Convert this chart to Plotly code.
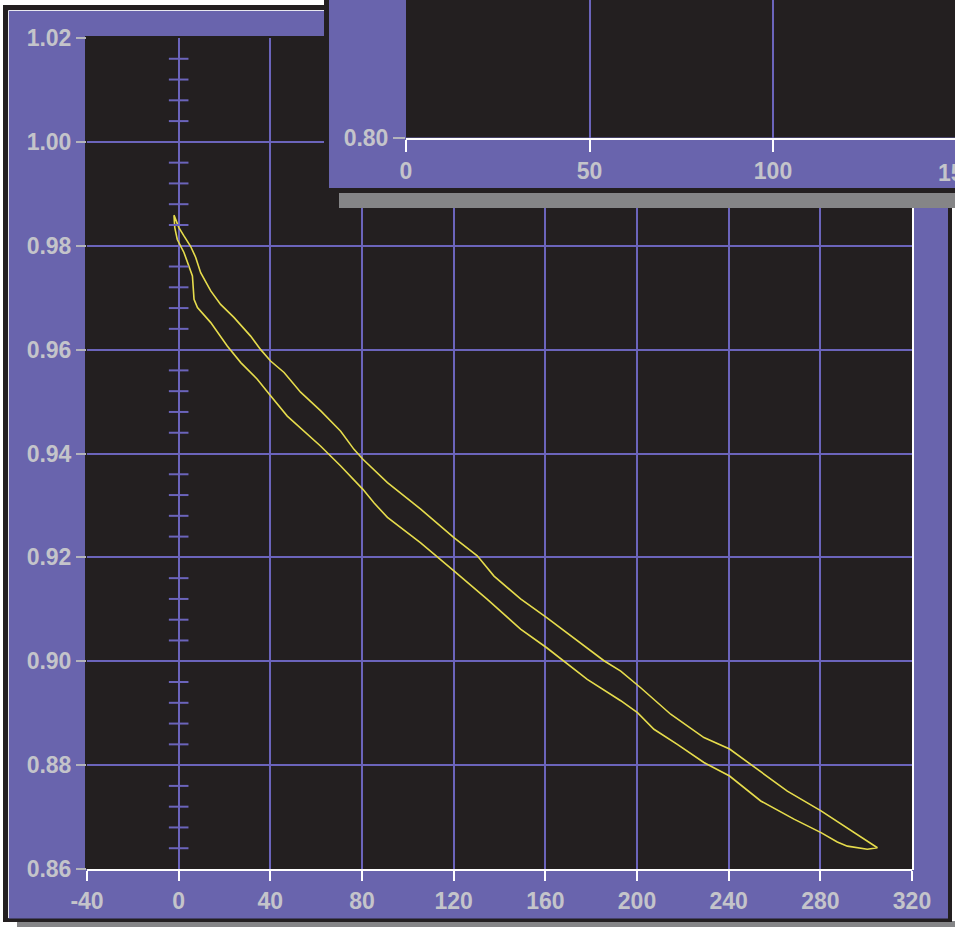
import plotly.graph_objects as go

# ---------------- data ----------------
# closed loop: upper branch (going right/down) then lower branch (coming back)
upper_x = [-2.05, -1.3, 0.1, 2.3, 5.2, 7.4, 9.6, 14.0, 18.3, 24.1, 31.4, 35.8, 40.1, 46.0,
           53.2, 62.0, 70.7, 76.5, 80.4, 91.1, 105.6, 120.1, 130.3, 137.6, 149.2, 160.6,
           171.1, 185.6, 192.9, 201.6, 214.7, 229.2, 240.4, 249.6, 265.6, 280.3, 294.8, 304.9]
upper_y = [0.9859, 0.9851, 0.9835, 0.9819, 0.9799, 0.9778, 0.9748, 0.9713, 0.9687, 0.9662,
           0.9626, 0.9600, 0.9578, 0.9556, 0.9518, 0.9482, 0.9443, 0.9408, 0.9389, 0.9344,
           0.9293, 0.9238, 0.9203, 0.9164, 0.9120, 0.9084, 0.9049, 0.9001, 0.8981, 0.8949,
           0.8898, 0.8853, 0.8831, 0.8802, 0.8750, 0.8712, 0.8670, 0.8641]
lower_x = [300.5, 291.8, 287.4, 280.3, 268.5, 254.0, 240.4, 229.2, 217.6, 207.4, 200.2,
           192.9, 178.3, 160.6, 149.2, 134.7, 120.1, 105.6, 91.1, 85.2, 80.4, 70.7, 62.0,
           47.4, 40.1, 34.3, 27.1, 21.2, 14.0, 8.2, 6.7, 6.0, 2.3, -0.6, -1.7, -2.05]
lower_y = [0.8638, 0.8644, 0.8652, 0.8670, 0.8696, 0.8731, 0.8779, 0.8805, 0.8840, 0.8869,
           0.8901, 0.8924, 0.8965, 0.9026, 0.9062, 0.9119, 0.9174, 0.9228, 0.9277, 0.9305,
           0.9331, 0.9376, 0.9414, 0.9472, 0.9511, 0.9543, 0.9575, 0.9607, 0.9652, 0.9681,
           0.9697, 0.9742, 0.9787, 0.9812, 0.9835, 0.9859]

main_xticks = [-40, 0, 40, 80, 120, 160, 200, 240, 280, 320]
main_xlabels = ["-40", "0", "40", "80", "120", "160", "200", "240", "280", "320"]
main_yticks = [0.86, 0.88, 0.90, 0.92, 0.94, 0.96, 0.98, 1.00, 1.02]
minor_yticks = [round(0.86 + 0.004 * k, 3) for k in range(1, 40) if k % 5 != 0]

inset_xticks = [0, 50, 100]
inset_yticks = [0.80]

# ---------------- style ----------------
W, H = 955, 927
PURPLE = "#6964ad"
GRID = "#6b64bb"
DARK = "#231f20"
LABEL = "#c4c4ca"
YELLOW = "#e6dc4c"
SHADOW = "#858587"
FONT = "Liberation Sans, Arial, sans-serif"


def px(x):
    return x / W


def py(y):
    return 1 - y / H


fig = go.Figure()

fig.add_trace(go.Scatter(
    x=upper_x + lower_x, y=upper_y + lower_y, mode="lines",
    line=dict(color=YELLOW, width=1.6), xaxis="x", yaxis="y", hoverinfo="skip"))

fig.add_trace(go.Scatter(
    x=[0] * len(minor_yticks), y=minor_yticks, mode="markers",
    marker=dict(symbol="line-ew", size=14, line=dict(color=GRID, width=2)),
    xaxis="x", yaxis="y", hoverinfo="skip"))

# empty traces to create the inset frame subplot and the inset plot subplot
fig.add_trace(go.Scatter(x=[], y=[], xaxis="x2", yaxis="y2"))
fig.add_trace(go.Scatter(x=[], y=[], xaxis="x3", yaxis="y3"))

shapes = []
# main frame (paper, below)
shapes.append(dict(type="rect", xref="paper", yref="paper", x0=px(17), x1=px(955), y0=py(927), y1=py(921),
                   fillcolor=SHADOW, line=dict(width=0), layer="below"))
shapes.append(dict(type="rect", xref="paper", yref="paper", x0=px(3), x1=px(952), y0=py(922), y1=py(5),
                   fillcolor=DARK, line=dict(width=0), layer="below"))
shapes.append(dict(type="rect", xref="paper", yref="paper", x0=px(8.5), x1=px(948), y0=py(918.5), y1=py(10.5),
                   fillcolor=PURPLE, line=dict(width=0), layer="below"))
shapes.append(dict(type="line", xref="paper", yref="paper", x0=px(8.5), x1=px(8.5), y0=py(918), y1=py(10.5),
                   line=dict(color="#e8e8f0", width=1), layer="below"))
shapes.append(dict(type="line", xref="paper", yref="paper", x0=px(8.5), x1=px(330), y0=py(10.5), y1=py(10.5),
                   line=dict(color="#e8e8f0", width=1), layer="below"))
shapes.append(dict(type="rect", xref="paper", yref="paper", x0=px(85), x1=px(912), y0=py(869), y1=py(36),
                   fillcolor=DARK, line=dict(width=0), layer="below"))
shapes.append(dict(type="line", xref="paper", yref="paper", x0=px(913), x1=px(913), y0=py(870), y1=py(36),
                   line=dict(color="white", width=2), layer="below"))
# inset frame (in frame subplot coordinates = pixels)
shapes.append(dict(type="rect", xref="x2", yref="y2", x0=339, x1=955, y0=193, y1=208,
                   fillcolor=SHADOW, line=dict(width=0), layer="below"))
shapes.append(dict(type="rect", xref="x2", yref="y2", x0=324, x1=955, y0=0, y1=193,
                   fillcolor=DARK, line=dict(width=0), layer="below"))
shapes.append(dict(type="rect", xref="x2", yref="y2", x0=329, x1=955, y0=0, y1=188,
                   fillcolor=PURPLE, line=dict(width=0), layer="below"))

tickfont = dict(family=FONT, size=23, color=LABEL, weight="bold")

fig.update_layout(
    template="none",
    width=W, height=H,
    margin=dict(l=0, r=0, t=0, b=0, pad=0, autoexpand=False),
    paper_bgcolor="white", plot_bgcolor=DARK,
    showlegend=False,
    shapes=shapes,
    xaxis=dict(domain=[px(87), px(912)], range=[-40, 320], tickvals=main_xticks,
               ticktext=main_xlabels,
               ticks="outside", ticklen=10, tickwidth=2, tickcolor="white",
               showline=True, linecolor="white", linewidth=2,
               showgrid=True, gridcolor=GRID, gridwidth=2, zeroline=False,
               tickfont=tickfont, anchor="y", fixedrange=True, automargin=False),
    yaxis=dict(domain=[py(869), py(38)], range=[0.86, 1.02], tickvals=main_yticks,
               tickformat=".2f",
               ticks="outside", ticklen=10, tickwidth=2, tickcolor="#b4b4bc",
               showline=False, showgrid=True, gridcolor=GRID, gridwidth=2, zeroline=False,
               tickfont=tickfont, anchor="x", fixedrange=True, automargin=False),
    xaxis2=dict(domain=[px(324), 1], range=[324, 955], visible=False, anchor="y2",
                fixedrange=True, automargin=False),
    yaxis2=dict(domain=[py(208), 1], range=[208, 0], visible=False, anchor="x2",
                fixedrange=True, automargin=False),
    xaxis3=dict(domain=[px(406), 1], range=[0, (955 - 406) / 3.67], tickvals=inset_xticks,
                ticks="outside", ticklen=12, tickwidth=2, tickcolor="white",
                showline=True, linecolor="white", linewidth=2,
                showgrid=True, gridcolor=GRID, gridwidth=2, zeroline=False,
                tickfont=tickfont, anchor="y3", fixedrange=True, automargin=False),
    yaxis3=dict(domain=[py(137.5), 1], range=[0.80, 0.83], tickvals=inset_yticks,
                tickformat=".2f",
                ticks="outside", ticklen=12, tickwidth=2, tickcolor="#b4b4bc",
                showline=False, showgrid=False, zeroline=False,
                tickfont=tickfont, anchor="x3", fixedrange=True, automargin=False),
    annotations=[dict(text="150", xref="paper", yref="paper", x=px(406 + 150 * 3.67), y=py(173),
                      xanchor="center", yanchor="middle", showarrow=False, font=tickfont)],
)

fig.write_html(
    "out.html",
    config={"displayModeBar": False},
    post_script="document.body.style.margin='0';document.body.style.overflow='hidden';",
)
